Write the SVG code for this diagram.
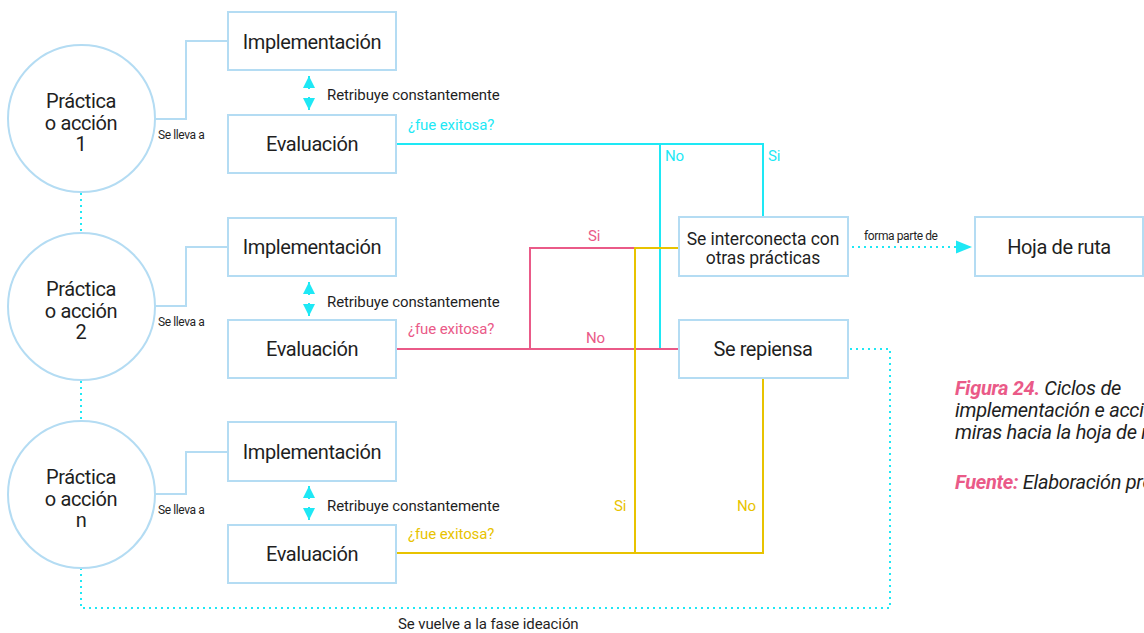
<svg xmlns="http://www.w3.org/2000/svg" width="1144" height="633" viewBox="0 0 1144 633">
  <style>
    text { font-family: Roboto, "Liberation Sans", sans-serif; fill: #1f1f1f; }
    .node { fill: #ffffff; stroke: #b4dcf3; stroke-width: 2; }
    .big { font-size: 20px; letter-spacing: -0.4px; text-anchor: middle; }
    .mid { font-size: 17.5px; letter-spacing: -0.1px; text-anchor: middle; }
    .small { font-size: 12px; letter-spacing: -0.4px; }
    .lbl { font-size: 15px; letter-spacing: -0.1px; }
    .cyan { stroke: #1ee8f5; }
    .pink { stroke: #ea5a88; }
    .yellow { stroke: #e8c300; }
    .wire { fill: none; stroke-width: 2; }
    .dot { fill: none; stroke: #1ee8f5; stroke-width: 2; stroke-dasharray: 2 4; }
    .tc { fill: #1ee8f5; }
    .tp { fill: #ea5a88; }
    .ty { fill: #e8c300; }
    .cap { font-size: 20px; font-style: italic; letter-spacing: -0.3px; }
    .capb { fill: #ea5a88; font-weight: bold; }
  </style>
  <defs>
    <marker id="tri" viewBox="0 0 10 10" refX="10" refY="5" markerWidth="13" markerHeight="12" markerUnits="userSpaceOnUse" orient="auto-start-reverse">
      <path d="M0,0 L10,5 L0,10 z" fill="#1ee8f5"/>
    </marker>
    <marker id="tri2" viewBox="0 0 10 10" refX="10" refY="5" markerWidth="16" markerHeight="16" markerUnits="userSpaceOnUse" orient="auto">
      <path d="M0,1 L10,5 L0,9 z" fill="#1ee8f5"/>
    </marker>
  </defs>

  <!-- connectors -->
  <g id="connectors">
    <!-- practice to implementation -->
    <path class="wire" stroke="#b4dcf3" d="M155,119 H186 V41 H228"/>
    <path class="wire" stroke="#b4dcf3" d="M155,306 H186 V247 H228"/>
    <path class="wire" stroke="#b4dcf3" d="M155,494 H186 V452 H228"/>
    <!-- feedback arrows -->
    <line class="cyan" stroke-width="2" stroke-dasharray="13 8" x1="309" y1="76" x2="309" y2="110" marker-start="url(#tri)" marker-end="url(#tri)"/>
    <line class="cyan" stroke-width="2" stroke-dasharray="13 8" x1="309" y1="282" x2="309" y2="316" marker-start="url(#tri)" marker-end="url(#tri)"/>
    <line class="cyan" stroke-width="2" stroke-dasharray="13 8" x1="309" y1="486" x2="309" y2="520" marker-start="url(#tri)" marker-end="url(#tri)"/>
    <!-- dotted links between practices and the return path -->
    <line class="dot" x1="81" y1="193" x2="81" y2="233"/>
    <line class="dot" x1="81" y1="381" x2="81" y2="421"/>
    <path class="dot" d="M850,349 H890 V608 H81 V568"/>
    <!-- forms part of roadmap -->
    <line class="dot" x1="852" y1="247" x2="972" y2="247" marker-end="url(#tri2)"/>
    <!-- cycle 1 -->
    <path class="wire cyan" d="M397,144 H763 V217"/>
    <path class="wire cyan" d="M660,144 V349"/>
    <!-- cycle 2 -->
    <path class="wire pink" d="M397,349 H679"/>
    <path class="wire pink" d="M530,349 V248 H679"/>
    <!-- cycle n -->
    <path class="wire yellow" d="M397,553 H763 V378"/>
    <path class="wire yellow" d="M635,553 V248 H679"/>
  </g>

  <!-- practices -->
  <g id="practica-1">
    <circle class="node" cx="81.5" cy="118.5" r="73.5"/>
    <text class="big" x="81" y="108">Práctica</text>
    <text class="big" x="81" y="130">o acción</text>
    <text class="big" x="81" y="151">1</text>
  </g>
  <g id="practica-2">
    <circle class="node" cx="81.5" cy="306.5" r="73.5"/>
    <text class="big" x="81" y="296">Práctica</text>
    <text class="big" x="81" y="318">o acción</text>
    <text class="big" x="81" y="339">2</text>
  </g>
  <g id="practica-n">
    <circle class="node" cx="81.5" cy="494.5" r="73.5"/>
    <text class="big" x="81" y="484">Práctica</text>
    <text class="big" x="81" y="506">o acción</text>
    <text class="big" x="81" y="527">n</text>
  </g>

  <!-- cycle 1 -->
  <g id="impl-1">
    <rect class="node" x="228" y="12" width="168" height="58"/>
    <text class="big" x="312" y="49">Implementación</text>
  </g>
  <g id="eval-1">
    <rect class="node" x="228" y="115" width="168" height="58"/>
    <text class="big" x="312" y="151">Evaluación</text>
  </g>
  <!-- cycle 2 -->
  <g id="impl-2">
    <rect class="node" x="228" y="218" width="168" height="58"/>
    <text class="big" x="312" y="254">Implementación</text>
  </g>
  <g id="eval-2">
    <rect class="node" x="228" y="320" width="168" height="58"/>
    <text class="big" x="312" y="356">Evaluación</text>
  </g>
  <!-- cycle n -->
  <g id="impl-n">
    <rect class="node" x="228" y="422" width="168" height="59"/>
    <text class="big" x="312" y="459">Implementación</text>
  </g>
  <g id="eval-n">
    <rect class="node" x="228" y="525" width="168" height="58"/>
    <text class="big" x="312" y="561">Evaluación</text>
  </g>

  <!-- outcomes -->
  <g id="interconecta">
    <rect class="node" x="679" y="217" width="169" height="59"/>
    <text class="mid" x="763" y="245">Se interconecta con</text>
    <text class="mid" x="763" y="264">otras prácticas</text>
  </g>
  <g id="repiensa">
    <rect class="node" x="679" y="320" width="169" height="58"/>
    <text class="big" x="763" y="356">Se repiensa</text>
  </g>
  <g id="hoja-de-ruta">
    <rect class="node" x="975" y="217" width="168" height="59"/>
    <text class="big" x="1059" y="254">Hoja de ruta</text>
  </g>

  <!-- connector labels -->
  <g id="labels">
    <text class="small" x="158" y="139">Se lleva a</text>
    <text class="small" x="158" y="326">Se lleva a</text>
    <text class="small" x="158" y="514">Se lleva a</text>
    <text class="lbl" x="327" y="100">Retribuye constantemente</text>
    <text class="lbl" x="327" y="307">Retribuye constantemente</text>
    <text class="lbl" x="327" y="511">Retribuye constantemente</text>
    <text class="lbl tc" x="408" y="130">¿fue exitosa?</text>
    <text class="lbl tp" x="408" y="334">¿fue exitosa?</text>
    <text class="lbl ty" x="408" y="539">¿fue exitosa?</text>
    <text class="lbl tc" x="665" y="161">No</text>
    <text class="lbl tc" x="768" y="161">Si</text>
    <text class="lbl tp" x="588" y="241">Si</text>
    <text class="lbl tp" x="586" y="343">No</text>
    <text class="lbl ty" x="614" y="511">Si</text>
    <text class="lbl ty" x="737" y="511">No</text>
    <text class="small" x="864" y="240" font-size="12.5">forma parte de</text>
    <text class="lbl" font-size="14" x="398" y="629">Se vuelve a la fase ideación</text>
  </g>

  <!-- caption -->
  <g id="caption">
    <text class="cap" x="955" y="395"><tspan class="capb">Figura 24.</tspan> Ciclos de</text>
    <text class="cap" x="955" y="417">implementación e acciones con</text>
    <text class="cap" x="955" y="439">miras hacia la hoja de ruta</text>
    <text class="cap" x="955" y="489"><tspan class="capb">Fuente:</tspan> Elaboración propia</text>
  </g>
</svg>
